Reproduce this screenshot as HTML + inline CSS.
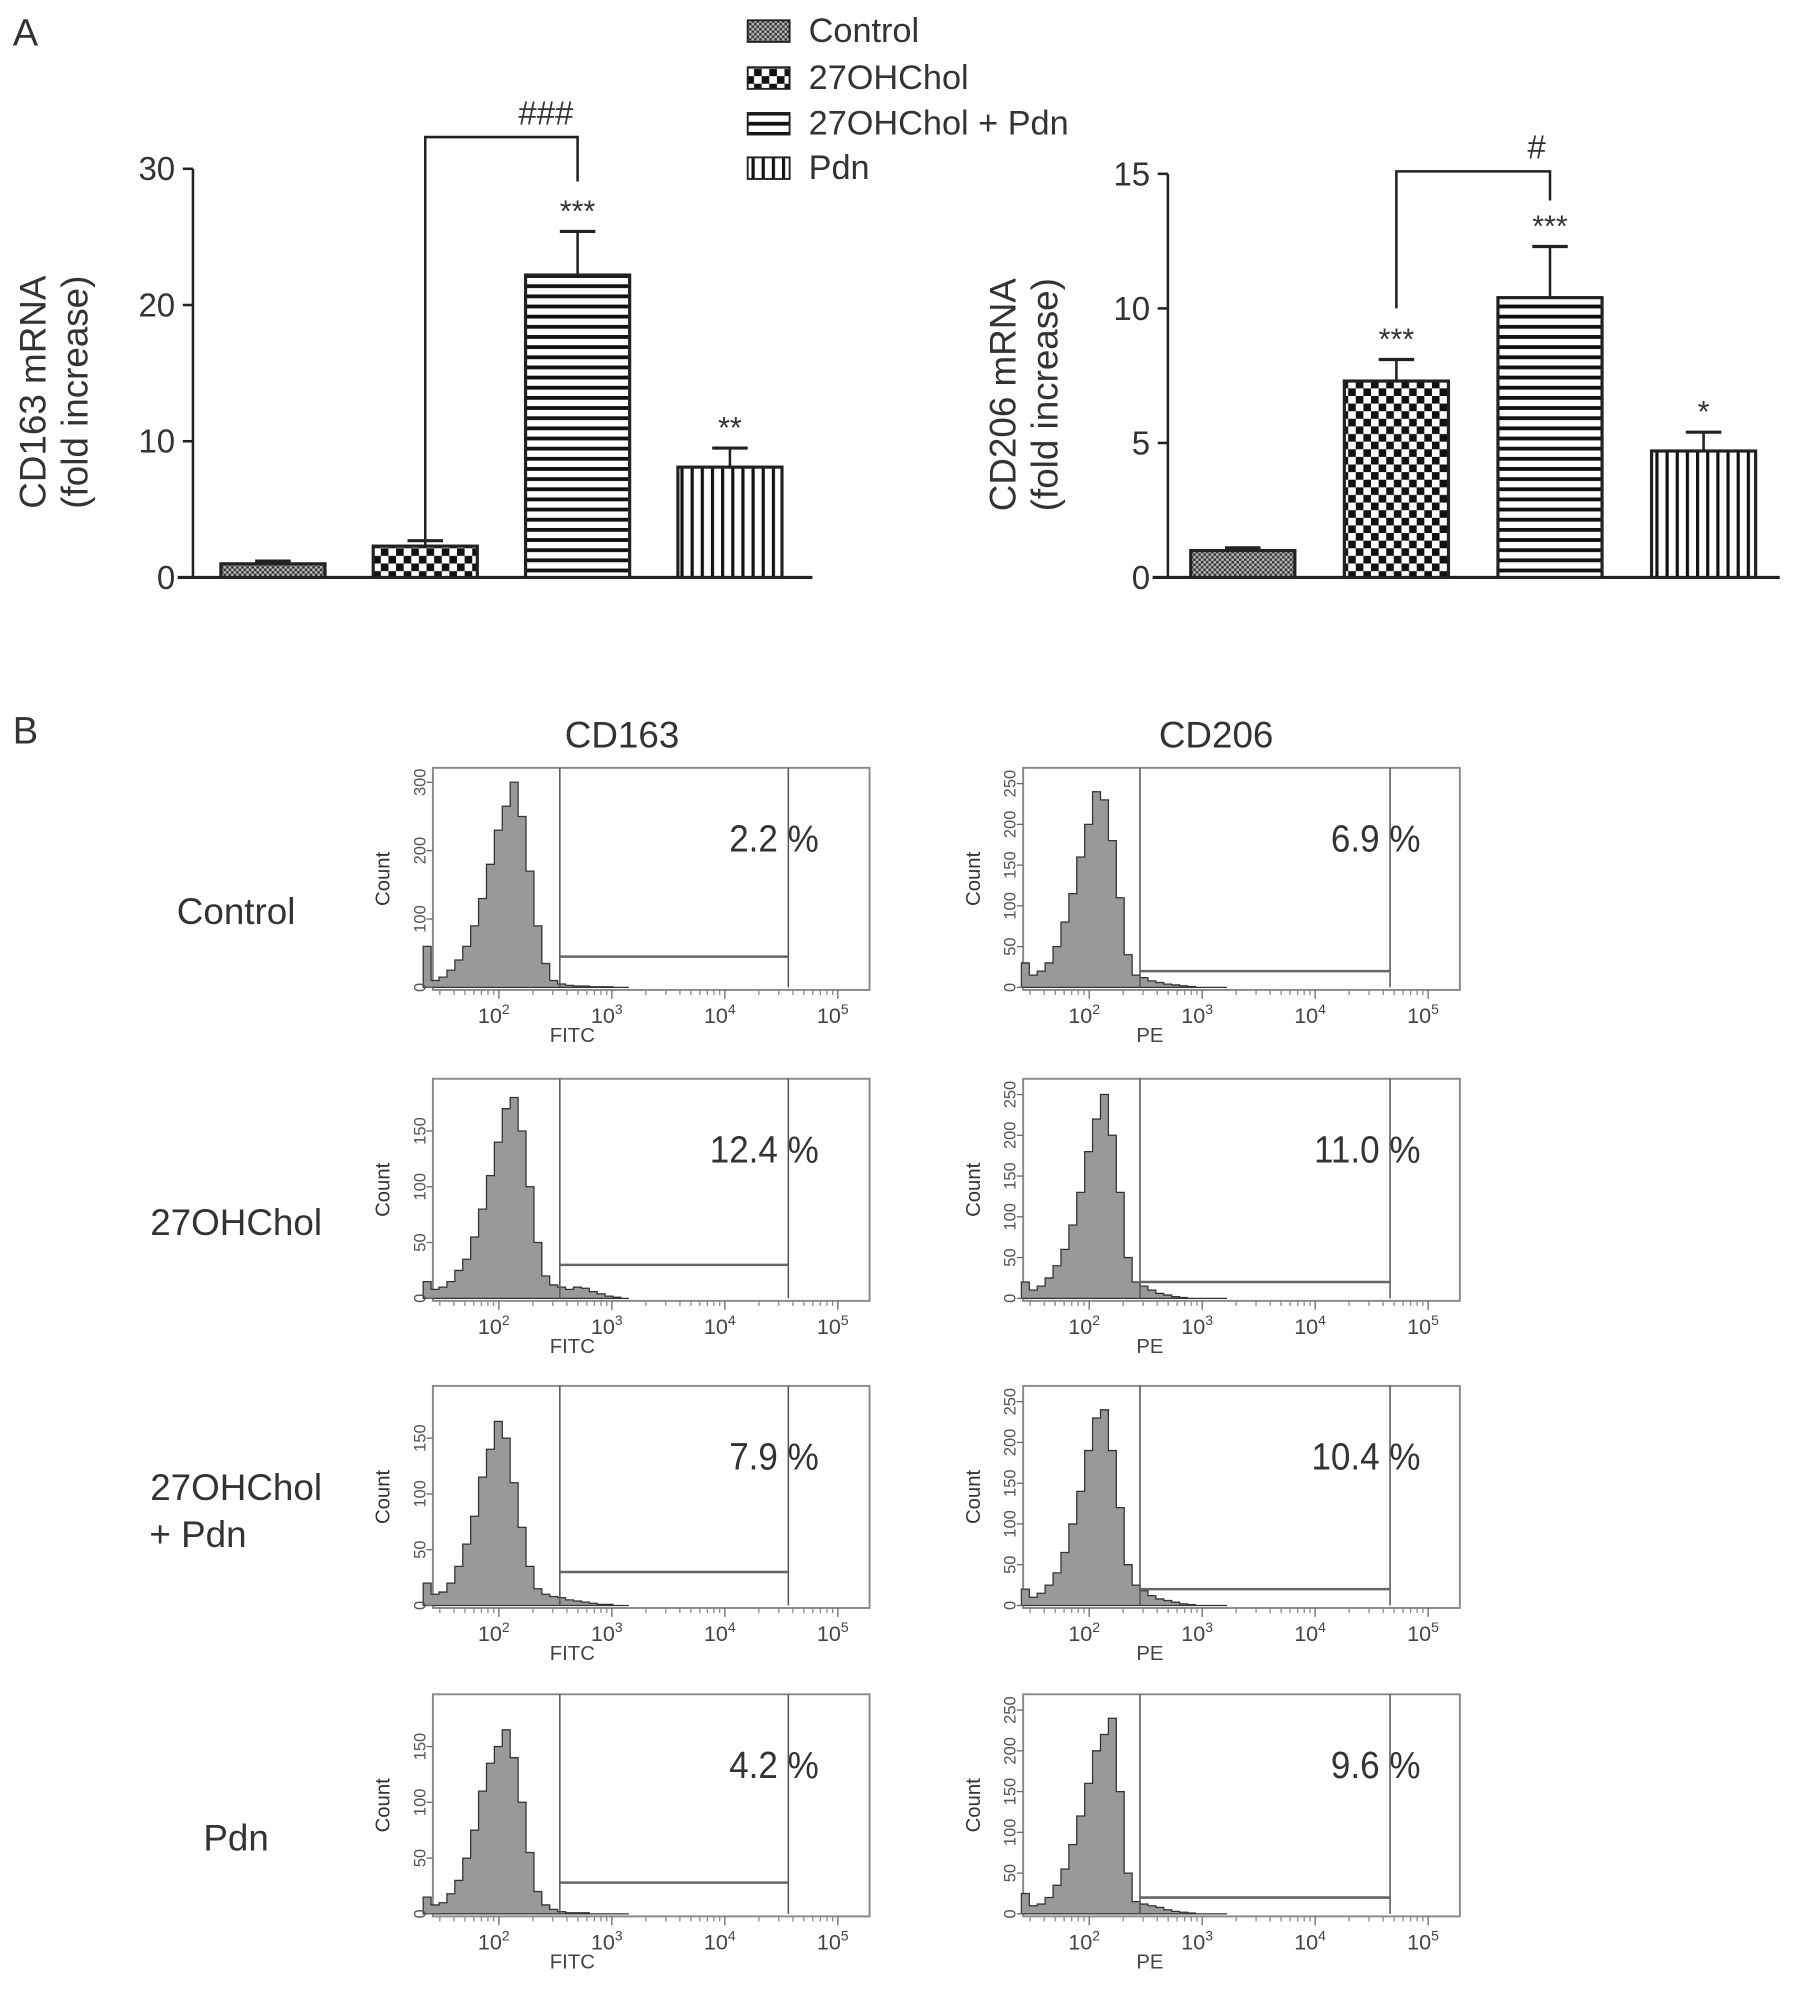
<!DOCTYPE html>
<html><head><meta charset="utf-8">
<style>
html,body{margin:0;padding:0;background:#fff;}
svg{display:block;font-family:"Liberation Sans",sans-serif;}
</style></head>
<body>
<svg id="fig" width="1795" height="1990" viewBox="0 0 1414 1568" preserveAspectRatio="none">
<defs>
<pattern id="pCtrl" width="4" height="4" patternUnits="userSpaceOnUse"><rect width="4" height="4" fill="#bbb"/><rect width="2" height="2" fill="#333"/><rect x="2" y="2" width="2" height="2" fill="#333"/></pattern>
<pattern id="pChk" width="12" height="12" patternUnits="userSpaceOnUse"><rect width="12" height="12" fill="#fff"/><rect width="6" height="6" fill="#111"/><rect x="6" y="6" width="6" height="6" fill="#111"/></pattern>
<pattern id="pH" width="10" height="8" patternUnits="userSpaceOnUse"><rect width="10" height="8" fill="#fff"/><rect y="0" width="10" height="3" fill="#111"/></pattern>
<pattern id="pV" width="8" height="10" patternUnits="userSpaceOnUse"><rect width="8" height="10" fill="#fff"/><rect x="0" width="2.5" height="10" fill="#111"/></pattern>
</defs>
<g id="root"></g>
</svg>
<script>
// ---- Panel A data ----
const groups = ["Control","27OHChol","27OHChol + Pdn","Pdn"];
const cd163Values = [1.0, 2.3, 22.2, 8.1];
const cd163Errors = [0.2, 0.4, 3.2, 1.4];
const cd163Stars = ["", "", "***", "**"];
const cd163Ticks = [0,10,20,30];
const cd206Values = [1.0, 7.3, 10.4, 4.7];
const cd206Errors = [0.1, 0.8, 1.9, 0.7];
const cd206Stars = ["", "***", "***", "*"];
const cd206Ticks = [0,5,10,15];
// ---- Panel B data ----
const rowLabels = [["Control"],["27OHChol"],["27OHChol","+ Pdn"],["Pdn"]];
const cd163Pct = ["2.2 %","12.4 %","7.9 %","4.2 %"];
const cd206Pct = ["6.9 %","11.0 %","10.4 %","9.6 %"];
const cd163StartLog = 1.33, cd206StartLog = 1.40, binStepLog = 0.07;
const cd163Hist = [
 [60,10,15,25,40,60,90,130,180,230,265,300,250,170,90,35,10,5,3,2,2,1,1,1,0,0],
 [15,8,10,15,25,35,55,80,110,140,170,180,150,100,50,20,12,10,8,10,9,6,4,2,1,0],
 [20,10,12,20,35,55,80,115,140,165,150,110,70,35,15,10,8,7,5,4,3,2,1,1,0,0],
 [15,8,10,18,30,50,75,110,135,150,165,140,100,55,20,8,4,2,1,1,1,0,0,0,0,0]];
const cd206Hist = [
 [30,15,20,30,50,80,115,160,200,240,230,180,110,40,15,12,8,6,4,3,2,1,0,0,0,0],
 [20,10,15,25,40,60,90,130,180,220,250,200,130,50,20,15,10,6,4,2,1,0,0,0,0,0],
 [20,10,15,25,40,65,100,140,190,230,240,190,120,50,25,18,12,8,6,4,2,1,0,0,0,0],
 [25,10,12,20,35,55,85,120,160,200,220,240,150,50,15,12,10,8,5,3,2,1,0,0,0,0]];
const cd163Max = [310,190,190,190];
const cd163Yticks = [[0,100,200,300],[0,50,100,150],[0,50,100,150],[0,50,100,150]];
const cd206Max = [260,260,260,260];
const cd206Yticks = [[0,50,100,150,200,250],[0,50,100,150,200,250],[0,50,100,150,200,250],[0,50,100,150,200,250]];
const cd163Gate = [45,30,30,28];
const cd206Gate = [20,20,20,20];
const decades = [2,3,4,5];

const NS="http://www.w3.org/2000/svg";
const root=document.getElementById('root');
function mk(tag,attrs,parent){const e=document.createElementNS(NS,tag);for(const k in attrs)e.setAttribute(k,attrs[k]);(parent||root).appendChild(e);return e;}
function txt(x,y,s,size,anchor,parent,extra){const t=mk('text',Object.assign({x:x,y:y,'font-size':size,'text-anchor':anchor||'middle',fill:'#333'},extra||{}),parent);t.textContent=s;return t;}

let e;
e=txt(10,36,"A",30,'start');
e=txt(10,586,"B",30,'start');

// legend
const legFills=["url(#pCtrl)","url(#pChk)","url(#pH)","url(#pV)"];
const legY=[24,61,97,132];
const leg=mk('g',{});

groups.forEach((g,i)=>{
  const it=mk('g',{},leg);
  
  mk('rect',{x:589,y:legY[i]-8,width:33,height:17,fill:legFills[i],stroke:'#222','stroke-width':1.5},it);
  txt(637,legY[i]+9,g,27,'start',it);
});

function barChart(opt){
  const g=mk('g',{});
  
  const y=v=>opt.y0-(v/opt.vmax)*(opt.y0-opt.ytop);
  mk('line',{x1:opt.ax,y1:opt.ytop,x2:opt.ax,y2:opt.y0,stroke:'#222','stroke-width':2},g);
  mk('line',{x1:opt.ax-12,y1:opt.y0,x2:opt.axEnd,y2:opt.y0,stroke:'#222','stroke-width':2.5},g);
  opt.ticks.forEach(t=>{
    mk('line',{x1:opt.ax-8,y1:y(t),x2:opt.ax,y2:y(t),stroke:'#222','stroke-width':2},g);
    const l=txt(opt.ax-14,y(t)+9,String(t),26,'end',g);
    
  });
  const yt=mk('text',{transform:`translate(${opt.titleX},${(opt.y0+opt.ytop)/2+15}) rotate(-90)`,'font-size':29,'text-anchor':'middle',fill:'#333'},g);
  
  const t1=mk('tspan',{x:0,dy:0},yt);t1.textContent=opt.title;
  const t2=mk('tspan',{x:0,dy:33},yt);t2.textContent="(fold increase)";
  opt.values.forEach((v,i)=>{
    const cx=opt.x0+i*opt.step, w=82;
    const eb=y(v+opt.errs[i]);
    const el=mk('line',{x1:cx,y1:eb,x2:cx,y2:y(v),stroke:'#222','stroke-width':2},g);
    
    mk('line',{x1:cx-14,y1:eb,x2:cx+14,y2:eb,stroke:'#222','stroke-width':2.5},g);
    const r=mk('rect',{x:cx-w/2,y:y(v),width:w,height:opt.y0-y(v),fill:legFills[i],stroke:'#222','stroke-width':2.5},g);
    
    if(opt.stars[i]){const s=txt(cx,eb-8,opt.stars[i],24,'middle',g);}
  });
  const b=opt.bracket;
  const bx1=opt.x0+b.i*opt.step, bx2=opt.x0+b.j*opt.step;
  const bp=mk('path',{d:`M${bx1},${b.y1} L${bx1},${b.top} L${bx2},${b.top} L${bx2},${b.y2}`,fill:'none',stroke:'#222','stroke-width':2},g);
  
  const bl=txt((bx1+bx2)/2+opt.hashDx,b.top-10,b.label,26,'middle',g);
  
}
barChart({name:'cd163-bar-chart',ax:152,axEnd:640,y0:455,ytop:133,vmax:30,ticks:cd163Ticks,title:"CD163 mRNA",titleX:36,
  x0:215,step:120,values:cd163Values,errs:cd163Errors,stars:cd163Stars,
  bracket:{i:1,j:2,top:108,y1:425,y2:143,label:"###"},hashDx:35});
barChart({name:'cd206-bar-chart',ax:920,axEnd:1402,y0:455,ytop:137,vmax:15,ticks:cd206Ticks,title:"CD206 mRNA",titleX:800,
  x0:979,step:121,values:cd206Values,errs:cd206Errors,stars:cd206Stars,
  bracket:{i:1,j:2,top:135,y1:243,y2:158,label:"#"},hashDx:50});

e=txt(490,589,"CD163",29);
e=txt(958,589,"CD206",29);

const rowTop=[605,850,1092,1335];
function flowPanel(left,top,hist,startLog,ymax,yticks,gateCount,pct,xlab,gate1,gate2,d2x,name){
  const g=mk('g',{});
  
  const W=344,H=175,bottom=top+H-2;
  const dec=89;
  const xl=lg=>left+(d2x-left)+(lg-2)*dec;
  const yc=c=>bottom-(c/ymax)*(H-8);
  mk('rect',{x:left,y:top,width:W,height:H,fill:'#fff',stroke:'#888','stroke-width':1.5},g);
  let d=`M${xl(startLog)},${bottom}`;
  hist.forEach((c,i)=>{const a=xl(startLog+i*binStepLog),b2=xl(startLog+(i+1)*binStepLog);d+=` L${a},${yc(c)} L${b2},${yc(c)}`;});
  d+=` L${xl(startLog+hist.length*binStepLog)},${bottom} Z`;
  const h=mk('path',{d:d,fill:'#999',stroke:'#333','stroke-width':1},g);
  
  mk('line',{x1:gate1,y1:top,x2:gate1,y2:bottom,stroke:'#555','stroke-width':1.2},g);
  mk('line',{x1:gate2,y1:top,x2:gate2,y2:bottom,stroke:'#555','stroke-width':1.2},g);
  const gl=mk('line',{x1:gate1,y1:yc(gateCount),x2:gate2,y2:yc(gateCount),stroke:'#666','stroke-width':2},g);
  
  const p=txt(gate2+24,top+66,pct,30,'end',g,{transform:`translate(${gate2+24},0) scale(0.92,1) translate(${-(gate2+24)},0)`});
  
  yticks.forEach(t=>{
    mk('line',{x1:left-5,y1:yc(t),x2:left,y2:yc(t),stroke:'#666','stroke-width':1},g);
    const l=mk('text',{transform:`translate(${left-6},${yc(t)}) rotate(-90)`,'font-size':13,'text-anchor':'middle',fill:'#555'},g);
    l.textContent=t;
  });
  const yt=mk('text',{transform:`translate(${left-34},${top+H/2}) rotate(-90)`,'font-size':16,'text-anchor':'middle',fill:'#333'},g);
  yt.textContent="Count";
  decades.forEach(dv=>{
    const x=xl(dv);
    mk('line',{x1:x,y1:top+H,x2:x,y2:top+H+7,stroke:'#666','stroke-width':1},g);
    for(let k=2;k<10;k++){const xm=xl(dv-1+Math.log10(k));if(xm>left)mk('line',{x1:xm,y1:top+H,x2:xm,y2:top+H+4,stroke:'#888','stroke-width':1},g);}
    const l=txt(x-4,top+H+26,"10",17,'middle',g,{fill:'#444'});
    const s=mk('tspan',{dy:-7,'font-size':11},l);s.textContent=dv;
  });
  const xt=txt(xl(2.65)+(xlab==="PE"?-10:0),top+H+41,xlab,16,'middle',g,{fill:'#444'});
  
}
rowTop.forEach((t,r)=>{
  const lab=mk('text',{x:186,y:t+(rowLabels[r].length>1?90:123),'font-size':29,'text-anchor':'middle',fill:'#333'});
  
  rowLabels[r].forEach((s,k)=>{const ts=mk('tspan',{x:186-(k?30:0),dy:k?37:0},lab);ts.textContent=s;});
  flowPanel(341,t,cd163Hist[r],cd163StartLog,cd163Max[r],cd163Yticks[r],cd163Gate[r],cd163Pct[r],"FITC",441,621,393,'cd163-flow-panel');
  flowPanel(806,t,cd206Hist[r],cd206StartLog,cd206Max[r],cd206Yticks[r],cd206Gate[r],cd206Pct[r],"PE",898,1095,858,'cd206-flow-panel');
});
</script>
</body></html>
